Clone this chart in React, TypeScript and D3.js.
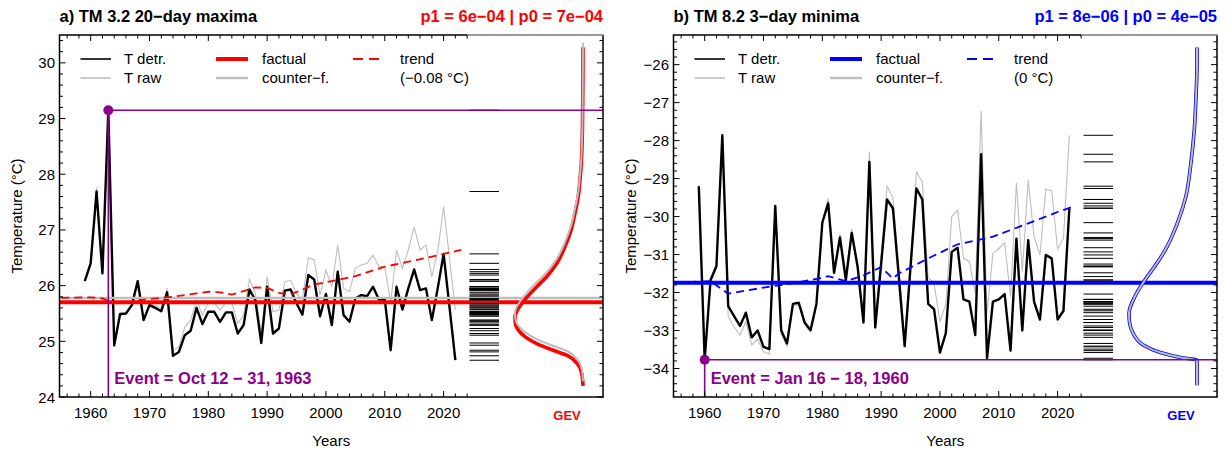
import React from "react";
import * as d3 from "d3";

const FONT = "'Liberation Sans', Arial, Helvetica, sans-serif";

// ---------- data: panel a ----------
const yearsA = d3.range(1959, 2023);
const detrA = [
  26.08, 26.4, 27.69, 26.22, 29.15, 24.93, 25.49, 25.5, 25.65, 26.08,
  25.38, 25.65, 25.6, 25.54, 25.88, 24.74, 24.81, 25.11, 25.19, 25.6,
  25.31, 25.53, 25.53, 25.35, 25.52, 25.52, 25.14, 25.29, 25.93, 25.74,
  24.97, 25.98, 25.14, 25.23, 25.91, 25.93, 25.68, 25.48, 26.19, 26.11,
  25.45, 25.85, 25.29, 26.25, 25.47, 25.35, 25.77, 25.83, 25.81, 25.98,
  25.75, 25.75, 24.84, 25.98, 25.57, 25.95, 26.29, 25.92, 25.95, 25.38,
  25.95, 26.57, 25.62, 24.66,
];
const rawA = [
  26.1, 26.42, 27.76, 26.24, 29.16, 24.9, 25.47, 25.5, 25.66, 26.1,
  25.4, 25.68, 25.64, 25.6, 25.95, 24.84, 24.9, 25.26, 25.38, 25.74,
  25.47, 25.69, 25.69, 25.56, 25.69, 25.69, 25.32, 25.47, 26.11, 25.86,
  25.15, 26.16, 25.53, 25.56, 26.07, 26.1, 25.85, 25.76, 26.5, 26.46,
  25.83, 26.28, 25.98, 26.73, 25.95, 25.89, 26.31, 26.37, 26.4, 26.55,
  26.34, 26.34, 25.69, 26.64, 26.31, 26.64, 27.05, 26.64, 26.73, 26.16,
  26.61, 27.42, 26.5, 25.56,
];
const trendYearsA = [1955, 1960, 1962, 1964, 1966, 1970, 1974, 1978, 1980, 1982, 1984, 1986, 1988, 1990, 1992, 1994, 1996, 1998, 2000, 2005, 2010, 2015, 2020, 2023];
const trendA = [25.78, 25.79, 25.77, 25.68, 25.7, 25.76, 25.8, 25.86, 25.89, 25.88, 25.84, 25.9, 25.97, 25.96, 25.87, 25.84, 25.93, 26.02, 26.06, 26.17, 26.34, 26.45, 26.57, 26.64];
const gevTempA = [24.2, 24.43, 24.6, 24.75, 24.84, 24.96, 25.08, 25.2, 25.32, 25.44, 25.56, 25.68, 25.8, 25.98, 26.16, 26.4, 26.7, 27.0, 27.3, 27.6, 27.9, 28.2, 28.6, 29.2, 30.28];
const gevDensA = [0, 0.02, 0.085, 0.24, 0.44, 0.68, 0.85, 0.95, 0.995, 1.0, 0.965, 0.9, 0.82, 0.68, 0.535, 0.385, 0.265, 0.175, 0.118, 0.07, 0.044, 0.025, 0.012, 0.005, 0];

// ---------- data: panel b ----------
const yearsB = d3.range(1959, 2023);
const detrB = [
  -29.2, -33.77, -31.67, -31.3, -27.86, -32.36, -32.62, -32.88, -32.53, -33.18,
  -33.0, -33.43, -33.49, -29.72, -32.99, -33.34, -32.3, -32.27, -32.79, -32.99,
  -32.3, -30.16, -29.65, -31.48, -30.55, -31.67, -30.43, -31.32, -32.79, -28.56,
  -32.92, -31.25, -29.55, -29.78, -31.58, -33.41, -31.32, -29.26, -29.55, -32.3,
  -32.44, -33.58, -33.07, -30.93, -30.82, -32.18, -32.24, -33.12, -28.36, -33.73,
  -32.24, -32.18, -32.04, -33.53, -30.58, -33.0, -30.62, -32.24, -32.71, -31.01,
  -31.1, -32.71, -32.48, -29.78,
];
const rawB = [
  -29.18, -33.8, -31.72, -31.38, -27.9, -32.64, -32.9, -33.12, -32.77, -33.38,
  -33.23, -33.56, -33.62, -29.83, -33.08, -33.41, -32.36, -32.33, -32.84, -33.04,
  -32.33, -30.13, -29.52, -31.41, -30.45, -31.54, -30.32, -31.23, -32.72, -28.29,
  -32.85, -31.0, -29.2, -29.5, -31.3, -33.25, -31.2, -28.82, -29.08, -31.6,
  -31.75, -32.77, -32.3, -30.0, -29.83, -31.1, -31.18, -32.02, -27.22, -32.55,
  -30.97, -30.84, -30.69, -32.11, -29.11, -31.45, -29.04, -30.53, -31.01, -29.28,
  -29.32, -30.86, -30.57, -27.86,
];
const trendYearsB = [1955, 1961, 1964, 1970, 1976, 1980, 1981, 1984, 1987, 1990, 1992, 1993, 1998, 2003, 2009, 2015, 2020, 2023];
const trendB = [-31.74, -31.7, -32.03, -31.87, -31.73, -31.61, -31.57, -31.7, -31.55, -31.33, -31.63, -31.5, -31.1, -30.73, -30.53, -30.18, -29.88, -29.72];
const gevTempB = [-34.44, -33.78, -33.71, -33.58, -33.38, -33.07, -32.81, -32.55, -32.11, -31.67, -31.23, -30.79, -30.18, -29.48, -28.6, -27.72, -26.85, -25.97, -25.55];
const gevDensB = [0, 0, 0.24, 0.54, 0.79, 0.94, 0.99, 1.0, 0.915, 0.765, 0.59, 0.44, 0.29, 0.165, 0.09, 0.04, 0.015, 0, 0];

const panels = [
  {
    key: "a",
    title: "a) TM 3.2 20\u2212day maxima",
    prob: "p1 = 6e\u221204 | p0 = 7e\u221204",
    color: "#FF0000",
    years: yearsA,
    detr: detrA,
    raw: rawA,
    trendYears: trendYearsA,
    trend: trendA,
    factual: 25.7,
    counterfactual: 25.78,
    trendLabel: "(\u22120.08 \u00B0C)",
    cfShift: 0.08,
    eventYear: 1963,
    eventValue: 29.15,
    eventLabel: "Event = Oct 12 \u2212 31, 1963",
    yDomain: [24, 30.5],
    yLabels: [24, 25, 26, 27, 28, 29, 30],
    gevTemp: gevTempA,
    gevDens: gevDensA,
  },
  {
    key: "b",
    title: "b) TM 8.2 3\u2212day minima",
    prob: "p1 = 8e\u221206 | p0 = 4e\u221205",
    color: "#0000FF",
    years: yearsB,
    detr: detrB,
    raw: rawB,
    trendYears: trendYearsB,
    trend: trendB,
    factual: -31.74,
    counterfactual: -31.74,
    trendLabel: "(0 \u00B0C)",
    cfShift: 0,
    eventYear: 1960,
    eventValue: -33.77,
    eventLabel: "Event = Jan 16 \u2212 18, 1960",
    yDomain: [-34.75, -25.22],
    yLabels: [-34, -33, -32, -31, -30, -29, -28, -27, -26],
    gevTemp: gevTempB,
    gevDens: gevDensB,
  },
];

const xTickYears = d3.range(1956, 2025, 2);
const xLabelYears = [1960, 1970, 1980, 1990, 2000, 2010, 2020];

const L = 59.5, R = 603, T = 35, B = 397;
const RUG0 = 469.5, RUG1 = 499;
const GEV_BASE = 583, GEV_W = 68;
const PURPLE = "#8B008B";
const GRAY = "#BEBEBE";

const fmt = (v: number) => (v < 0 ? "\u2212" + Math.abs(v) : String(v));

function Panel({ p, ox }: { p: any; ox: number }) {
  const x = d3.scaleLinear().domain([1954.7, 2047.1]).range([L, R]);
  const y = d3.scaleLinear().domain(p.yDomain).range([B, T]);
  const line = d3.line<[number, number]>().x((d) => x(d[0])).y((d) => y(d[1]));
  const rawPath = line(p.years.map((yr: number, i: number) => [yr, p.raw[i]]));
  const detrPath = line(p.years.map((yr: number, i: number) => [yr, p.detr[i]]));
  const trendPath = line(p.trendYears.map((yr: number, i: number) => [yr, p.trend[i]]));
  const gevLine = d3
    .line<[number, number]>()
    .x((d) => d[0])
    .y((d) => d[1])
    .curve(d3.curveMonotoneY);
  const dens = d3.scaleLinear().domain([0, 1]).range([0, GEV_W]);
  const ptsF: [number, number][] = p.gevTemp
    .map((t: number, i: number) => [GEV_BASE - dens(p.gevDens[i]), y(t)] as [number, number])
    .sort((a: any, b: any) => a[1] - b[1]);
  const ptsC: [number, number][] = p.gevTemp
    .map((t: number, i: number) => [GEV_BASE - dens(p.gevDens[i]), y(t + p.cfShift)] as [number, number])
    .sort((a: any, b: any) => a[1] - b[1]);

  const [y0, y1] = p.yDomain;
  const yTicks: number[] = [];
  for (let k = Math.ceil(y0 * 5 - 1e-6); k <= Math.floor(y1 * 5 + 1e-6); k++) yTicks.push(k);
  const ex = x(p.eventYear), ey = y(p.eventValue);
  const topBlackEnd = x(2024);

  return (
    <g transform={`translate(${ox},0)`}>
      <path d={rawPath!} fill="none" stroke={GRAY} strokeWidth={1.1} />
      <path d={detrPath!} fill="none" stroke="#000" strokeWidth={2.4} strokeLinejoin="round" />
      <line x1={L} x2={R} y1={y(p.counterfactual)} y2={y(p.counterfactual)} stroke={GRAY} strokeWidth={2.4} />
      <line x1={L} x2={R} y1={y(p.factual)} y2={y(p.factual)} stroke={p.color} strokeWidth={4} />
      <path d={trendPath!} fill="none" stroke={p.color} strokeWidth={1.8} strokeDasharray="8,5" />
      {p.detr.map((v: number, i: number) => (
        <line key={i} x1={RUG0} x2={RUG1} y1={y(v)} y2={y(v)} stroke="#000" strokeWidth={1} />
      ))}
      <path d={gevLine(ptsF)!} fill="none" stroke={p.color} strokeWidth={3.6} />
      <path d={gevLine(ptsC)!} fill="none" stroke={GRAY} strokeWidth={2} />
      <line x1={ex} x2={R} y1={ey} y2={ey} stroke={PURPLE} strokeWidth={1.6} />
      <line x1={ex} x2={ex} y1={ey} y2={B} stroke={PURPLE} strokeWidth={1.6} />
      <circle cx={ex} cy={ey} r={5} fill={PURPLE} />
      <text x={ex + 6} y={384} fill={PURPLE} fontWeight="bold" fontSize={16.5} fontFamily={FONT}>
        {p.eventLabel}
      </text>

      {/* frame */}
      <line x1={L} x2={L} y1={T} y2={B} stroke="#000" strokeWidth={1.5} />
      <line x1={R} x2={R} y1={T} y2={B} stroke="#000" strokeWidth={1.5} />
      <line x1={L - 0.75} x2={R + 0.75} y1={B} y2={B} stroke="#000" strokeWidth={1.5} />
      <line x1={L - 0.75} x2={topBlackEnd} y1={T} y2={T} stroke="#000" strokeWidth={1.5} />
      <line x1={topBlackEnd} x2={R + 0.75} y1={T} y2={T} stroke="#777" strokeWidth={1.5} />

      {/* x ticks */}
      {xTickYears.map((yr) => {
        const len = yr % 10 === 0 ? 6 : 3.5;
        return (
          <g key={yr}>
            <line x1={x(yr)} x2={x(yr)} y1={B} y2={B - len} stroke="#000" strokeWidth={1} />
            <line x1={x(yr)} x2={x(yr)} y1={T} y2={T + len} stroke="#000" strokeWidth={1} />
          </g>
        );
      })}
      {xLabelYears.map((yr) => (
        <text key={yr} x={x(yr)} y={418} textAnchor="middle" fontSize={15} fontFamily={FONT}>
          {yr}
        </text>
      ))}
      {/* y ticks */}
      {yTicks.map((k) => {
        const v = k / 5;
        const len = k % 5 === 0 ? 6 : 3.5;
        return (
          <g key={k}>
            <line x1={L} x2={L + len} y1={y(v)} y2={y(v)} stroke="#000" strokeWidth={1} />
            <line x1={R} x2={R - len} y1={y(v)} y2={y(v)} stroke="#000" strokeWidth={1} />
          </g>
        );
      })}
      {p.yLabels.map((v: number) => (
        <text key={v} x={55} y={y(v) + 5.5} textAnchor="end" fontSize={15} fontFamily={FONT}>
          {fmt(v)}
        </text>
      ))}

      {/* titles */}
      <text x={L} y={22} fontWeight="bold" fontSize={16.5} fontFamily={FONT}>
        {p.title}
      </text>
      <text x={R} y={22} textAnchor="end" fontWeight="bold" fontSize={16.5} fontFamily={FONT} fill={p.color}>
        {p.prob}
      </text>
      <text x={(L + R) / 2} y={446} textAnchor="middle" fontSize={15} fontFamily={FONT}>
        Years
      </text>
      <text
        transform={`translate(22,${(T + B) / 2}) rotate(-90)`}
        textAnchor="middle"
        fontSize={15}
        fontFamily={FONT}
      >
        {"Temperature (\u00B0C)"}
      </text>
      <text x={567} y={420} textAnchor="middle" fontWeight="bold" fontSize={13} fontFamily={FONT} fill={p.color}>
        GEV
      </text>

      {/* legend */}
      <g fontSize={15} fontFamily={FONT}>
        <line x1={80.5} x2={111} y1={59} y2={59} stroke="#000" strokeWidth={1.6} />
        <text x={124} y={64}>{"T detr."}</text>
        <line x1={80.5} x2={111} y1={78} y2={78} stroke={GRAY} strokeWidth={1.6} />
        <text x={124} y={83}>{"T raw"}</text>
        <line x1={216} x2={248} y1={59} y2={59} stroke={p.color} strokeWidth={4} />
        <text x={262} y={64}>{"factual"}</text>
        <line x1={216} x2={248} y1={78} y2={78} stroke={GRAY} strokeWidth={2.4} />
        <text x={262} y={83}>{"counter\u2212f."}</text>
        <line x1={353} x2={383} y1={59} y2={59} stroke={p.color} strokeWidth={1.8} strokeDasharray="10,6" />
        <text x={400} y={64}>{"trend"}</text>
        <text x={400} y={83}>{p.trendLabel}</text>
      </g>
    </g>
  );
}

export default function App() {
  return (
    <svg
      width={1228}
      height={453}
      viewBox="0 0 1228 453"
      style={{ position: "fixed", left: 0, top: 0, background: "#fff" }}
    >
      <rect width={1228} height={453} fill="#fff" />
      {panels.map((p, i) => (
        <Panel key={p.key} p={p} ox={i * 614} />
      ))}
    </svg>
  );
}
